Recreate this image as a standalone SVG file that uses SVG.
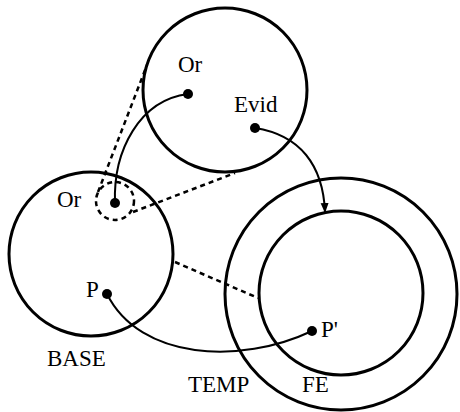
<svg xmlns="http://www.w3.org/2000/svg" width="460" height="412" viewBox="0 0 460 412">
<style>
.c{fill:none;stroke:#000;stroke-width:3}
.d{fill:none;stroke:#000;stroke-width:2.5;stroke-dasharray:5 4}
.l{fill:none;stroke:#000;stroke-width:2}
.t{font-family:"Liberation Serif",serif;font-size:23px;fill:#000}
.dot{fill:#000}
</style>
<defs>
<marker id="ah" markerWidth="10" markerHeight="10" refX="9" refY="5" orient="auto" markerUnits="userSpaceOnUse">
<path d="M0,1 L10,5 L0,9 Z" fill="#000"/>
</marker>
</defs>
<rect width="460" height="412" fill="#fff"/>
<g id="top">
<circle class="c" cx="225" cy="90" r="82"/>
<text class="t" x="178" y="72">Or</text>
<text class="t" x="234" y="112">Evid</text>
<circle class="dot" cx="188" cy="94" r="5"/>
<circle class="dot" cx="255" cy="128" r="5"/>
</g>
<g id="base">
<circle class="c" cx="91" cy="254" r="82"/>
<text class="t" x="57" y="207">Or</text>
<circle class="dot" cx="115" cy="203" r="5"/>
<ellipse cx="115" cy="201" rx="19" ry="19" fill="none" stroke="#000" stroke-width="2.5" stroke-dasharray="5 4"/>
<text class="t" x="86" y="297">P</text>
<circle class="dot" cx="107" cy="294" r="5"/>
<text class="t" x="47" y="366">BASE</text>
</g>
<g id="temp">
<circle class="c" cx="341" cy="294" r="116"/>
<text class="t" x="188" y="392">TEMP</text>
</g>
<g id="fe">
<circle class="c" cx="341" cy="293" r="82"/>
<text class="t" x="302" y="392">FE</text>
<circle class="dot" cx="312" cy="331" r="5"/>
<text class="t" x="321" y="337">P'</text>
</g>
<g id="connectors">
<path class="d" d="M98,192 L147,65"/>
<path class="d" d="M133,212 L235,173"/>
<path class="d" d="M175,262 L258,298" stroke-width="3"/>
<path class="l" d="M115,203 C113,150 140,100 188,94"/>
<path class="l" d="M255,128 C300,135 323,165 325,212" marker-end="url(#ah)"/>
<path class="l" d="M107,294 C140,360 240,365 312,331"/>
</g>
</svg>
